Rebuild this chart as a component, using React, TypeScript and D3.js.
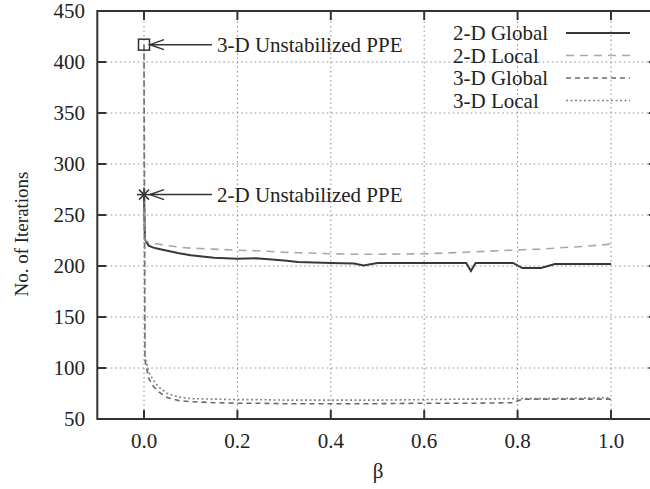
import React from "react";
import * as d3 from "d3";

const betas = [0, 0.002, 0.01, 0.02, 0.03, 0.05, 0.075, 0.1, 0.15, 0.2, 0.24, 0.3, 0.33, 0.4, 0.45, 0.47, 0.5, 0.6, 0.69, 0.7, 0.71, 0.79, 0.81, 0.85, 0.88, 0.95, 1.0];
const global2D = [270, 226, 220, 218, 217, 215, 212.5, 210.5, 208, 207, 207.5, 205.5, 204, 203, 202.5, 200.5, 203, 203, 203, 195, 203, 203, 198, 198, 202, 202, 202];
const local2D = [270, 226, 223, 222, 221.5, 220, 218.5, 217.5, 216.5, 215.5, 215, 213.5, 213, 212, 211.5, 211.5, 211.5, 212, 213.5, 214, 214, 215.5, 216, 216.5, 217.5, 219.5, 221.5];
const global3D = [417, 108, 90, 82, 77, 71, 68, 67, 66, 65.5, 65.5, 65, 65, 65, 65, 65, 65, 65.5, 65.5, 65.5, 65.5, 66, 69.5, 69.5, 69.5, 69.5, 69.5];
const local3D = [417, 112, 96, 88, 82, 75, 71.5, 70, 69.5, 69, 69, 68.5, 68.5, 68.5, 68.5, 68.5, 68.5, 69, 69.5, 69.5, 69.5, 70, 70, 70, 70, 70.5, 71];

const xTicks = [0, 0.2, 0.4, 0.6, 0.8, 1.0];
const yTicks = [50, 100, 150, 200, 250, 300, 350, 400, 450];
const seriesNames = ["2-D Global", "2-D Local", "3-D Global", "3-D Local"];
const annotations = [
  { label: "3-D Unstabilized PPE", beta: 0, value: 417, marker: "square" },
  { label: "2-D Unstabilized PPE", beta: 0, value: 270, marker: "star" },
];

const W = 650;
const H = 489;

export default function App() {
  const x = d3.scaleLinear().domain([-0.1, 1.1]).range([97.3, 657.7]);
  const y = d3.scaleLinear().domain([50, 450]).range([419, 11]);
  const font = "'Liberation Serif', 'DejaVu Serif', serif";
  const styles = [
    { stroke: "#383838", width: 2, dash: "" },
    { stroke: "#a8a8a8", width: 1.6, dash: "8,6" },
    { stroke: "#6a6a6a", width: 1.6, dash: "5,4" },
    { stroke: "#858585", width: 1.6, dash: "2,2.5" },
  ];
  const data = [global2D, local2D, global3D, local3D];
  const line = d3
    .line<[number, number]>()
    .x((d) => x(d[0]))
    .y((d) => y(d[1]));
  const x0 = x.range()[0];
  const x1 = x.range()[1];
  const yb = y(50);
  const yt = y(450);
  const tickLen = 9;

  return (
    <svg width={W} height={H} style={{ position: "absolute", left: 0, top: 0, background: "#fff" }} fontFamily={font}>
      {/* grid */}
      {xTicks.map((t) => (
        <line key={"gx" + t} x1={x(t)} x2={x(t)} y1={yb} y2={yt} stroke="#8c8c8c" strokeWidth={1} strokeDasharray="1.5,3" />
      ))}
      {yTicks.slice(1, -1).map((t) => (
        <line key={"gy" + t} x1={x0} x2={x1} y1={y(t)} y2={y(t)} stroke="#8c8c8c" strokeWidth={1} strokeDasharray="1.5,3" />
      ))}
      {/* series */}
      {data.map((vals, i) => (
        <path
          key={"s" + i}
          d={line(betas.map((b, j) => [b, vals[j]] as [number, number])) || ""}
          fill="none"
          stroke={styles[i].stroke}
          strokeWidth={styles[i].width}
          strokeDasharray={styles[i].dash}
        />
      ))}
      {/* frame */}
      <rect x={x0} y={yt} width={x1 - x0} height={yb - yt} fill="none" stroke="#333" strokeWidth={2} />
      {xTicks.map((t) => (
        <g key={"tx" + t}>
          <line x1={x(t)} x2={x(t)} y1={yb} y2={yb - tickLen} stroke="#333" strokeWidth={2} />
          <line x1={x(t)} x2={x(t)} y1={yt} y2={yt + tickLen} stroke="#333" strokeWidth={2} />
          <text x={x(t)} y={448} textAnchor="middle" fontSize={21} fill="#222">
            {t.toFixed(1)}
          </text>
        </g>
      ))}
      {yTicks.map((t) => (
        <g key={"ty" + t}>
          {t !== 50 && t !== 450 && (
            <>
              <line x1={x0} x2={x0 + tickLen} y1={y(t)} y2={y(t)} stroke="#333" strokeWidth={2} />
              <line x1={x1} x2={x1 - tickLen} y1={y(t)} y2={y(t)} stroke="#333" strokeWidth={2} />
            </>
          )}
          <text x={85} y={y(t) + 7} textAnchor="end" fontSize={21} fill="#222">
            {t}
          </text>
        </g>
      ))}
      {/* axis labels */}
      <text x={378} y={478} textAnchor="middle" fontSize={21} fill="#222">
        β
      </text>
      <text transform={`translate(28,234) rotate(-90)`} textAnchor="middle" fontSize={19} fill="#222">
        No. of Iterations
      </text>
      {/* legend */}
      {seriesNames.map((n, i) => {
        const ly = 33 + i * 22.5;
        return (
          <g key={"lg" + i}>
            <text x={453} y={ly + 7} fontSize={21} fill="#222">
              {n}
            </text>
            <line x1={566} x2={630} y1={ly} y2={ly} stroke={styles[i].stroke} strokeWidth={styles[i].width} strokeDasharray={styles[i].dash} />
          </g>
        );
      })}
      {/* annotations */}
      {annotations.map((a, i) => {
        const px = x(a.beta);
        const py = y(a.value);
        const tip = px + 6;
        return (
          <g key={"an" + i}>
            {a.marker === "square" ? (
              <rect x={px - 5.5} y={py - 5.5} width={11} height={11} fill="none" stroke="#333" strokeWidth={1.5} />
            ) : (
              <g stroke="#333" strokeWidth={1.5}>
                <line x1={px - 7} x2={px + 7} y1={py} y2={py} />
                <line x1={px} x2={px} y1={py - 7} y2={py + 7} />
                <line x1={px - 5} x2={px + 5} y1={py - 5} y2={py + 5} />
                <line x1={px - 5} x2={px + 5} y1={py + 5} y2={py - 5} />
              </g>
            )}
            <line x1={tip} x2={212} y1={py} y2={py} stroke="#333" strokeWidth={1.5} />
            <polyline points={`${tip + 14},${py - 5} ${tip},${py} ${tip + 14},${py + 5}`} fill="none" stroke="#333" strokeWidth={1.5} />
            <text x={217} y={py + 7} fontSize={21} fill="#222">
              {a.label}
            </text>
          </g>
        );
      })}
    </svg>
  );
}
